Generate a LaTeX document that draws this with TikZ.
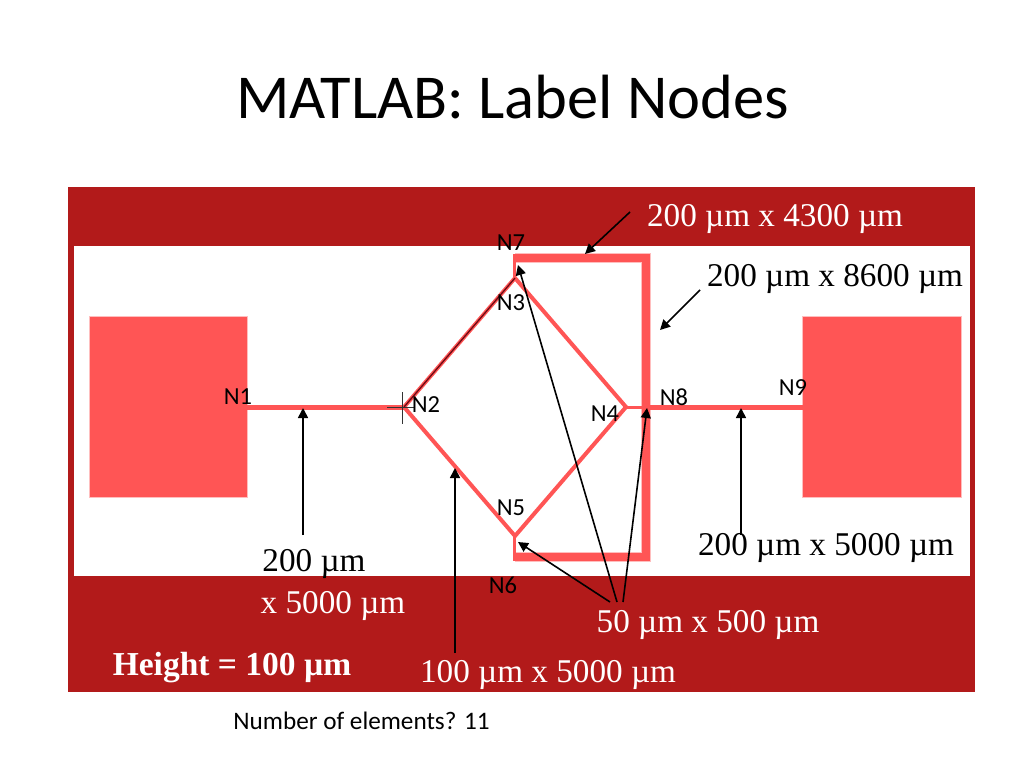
\documentclass[tikz,border=0pt]{standalone}
\usepackage{fontspec}
\setmainfont{Carlito}
\newfontfamily\figserif{Liberation Serif}
\usetikzlibrary{arrows.meta}
\definecolor{bandred}{RGB}{178,26,26}
\definecolor{padred}{RGB}{255,85,85}
\definecolor{palered}{RGB}{255,190,190}
\definecolor{darkwire}{RGB}{110,10,20}
\tikzset{
  pad/.style={fill=padred,draw=palered,line width=1pt},
  wire/.style={draw=padred,line width=#1,line cap=butt,line join=miter},
  nlabel/.style={font=\fontsize{24.5}{26}\selectfont,text=black,inner sep=0pt},
  dimtext/.style={font=\figserif\fontsize{33.2}{35}\selectfont,inner sep=0pt},
  ptr/.style={draw=black,line width=1.6pt,-{Triangle[length=10pt,width=10pt]},shorten >=0pt}
}
\begin{document}
\begin{tikzpicture}[x=1pt,y=-1pt]
\useasboundingbox (0,0) rectangle (1024,768);
\fill[white] (0,0) rectangle (1024,768);
% title
\node[font=\fontsize{62.5}{66}\selectfont,inner sep=0pt] (title) at (512.5,97) {MATLAB: Label Nodes};
% bands
\fill[bandred] (68,187) rectangle (975,692);
\fill[white] (74,246) rectangle (970,576);
% pads
\node[pad,minimum width=158pt,minimum height=181pt,inner sep=0pt] (padL) at (168.5,407) {};
\node[pad,minimum width=159pt,minimum height=181pt,inner sep=0pt] (padR) at (882,407) {};
% geometry coordinates
\coordinate (n1) at (247,407);
\coordinate (n2) at (404,407);
\coordinate (n3) at (515,278);
\coordinate (n4) at (626,407);
\coordinate (n5) at (515,536);
\coordinate (n6) at (515,557);
\coordinate (n7) at (515,258);
\coordinate (n8) at (646,407);
\coordinate (n9) at (804,407);
\coordinate (tr) at (646,258);
\coordinate (br) at (646,557);
% rectangle loop
\draw[draw=palered,line width=10.5pt,line cap=butt,line join=miter] (n7) -- (tr) -- (br) -- (n6);
\draw[wire=8.5pt] (n7) -- (tr) -- (br) -- (n6);
\draw[wire=3pt] (514.5,254) -- (514.5,278);
\draw[wire=3pt] (514.5,536) -- (514.5,561);
% wires
\draw[wire=5pt] (n1) -- (n2);
\draw[wire=5pt] (n8) -- (n9);
\draw[wire=3pt] (n4) -- (n8);
\draw[wire=4pt,line join=miter] (n2) -- (n3) -- (n4) -- (n5) -- cycle;
\draw[draw=darkwire,line width=1.3pt] (n2) -- (n3);
% crosshair
\coordinate (chL) at (387,407);
\coordinate (chR) at (414,407);
\coordinate (chT) at (402,392);
\coordinate (chB) at (402,424);
\draw[line width=1pt,black!80] (chL) -- (chR);
\draw[line width=1pt,black!80] (chT) -- (chB);
% pointer ends
\coordinate (a1s) at (630,212); \coordinate (a1e) at (585,254);
\coordinate (a2s) at (700,290); \coordinate (a2e) at (660,330);
\coordinate (a3s) at (303,535); \coordinate (a3e) at (303,408);
\coordinate (a4s) at (455,653); \coordinate (a4e) at (455,468);
\coordinate (a5s) at (741,535); \coordinate (a5e) at (741,408);
\coordinate (a6s) at (617,602); \coordinate (a6e) at (518,265);
\coordinate (a7s) at (623,602); \coordinate (a7e) at (647,408);
\coordinate (a8s) at (610,602); \coordinate (a8e) at (518,542);
\draw[ptr] (a1s) -- (a1e);
\draw[ptr] (a2s) -- (a2e);
\draw[ptr] (a3s) -- (a3e);
\draw[ptr] (a4s) -- (a4e);
\draw[ptr] (a5s) -- (a5e);
\draw[ptr] (a6s) -- (a6e);
\draw[ptr] (a7s) -- (a7e);
\draw[ptr] (a8s) -- (a8e);
% node labels
\node[nlabel] (N1) at (238,397) {N1};
\node[nlabel] (N2) at (426,405) {N2};
\node[nlabel] (N3) at (511,303) {N3};
\node[nlabel] (N4) at (605,414) {N4};
\node[nlabel] (N5) at (511,508) {N5};
\node[nlabel] (N6) at (503,585) {N6};
\node[nlabel] (N7) at (511,243) {N7};
\node[nlabel] (N8) at (674,397) {N8};
\node[nlabel] (N9) at (793,388) {N9};
% dimension labels
\node[dimtext,text=white] (d1) at (775,219) {200 µm x 4300 µm};
\node[dimtext,text=black] (d2) at (835,279) {200 µm x 8600 µm};
\node[dimtext,text=black] (d3) at (826,548) {200 µm x 5000 µm};
\node[dimtext,text=black] (d4) at (314,564) {200 µm};
\node[dimtext,text=white] (d5) at (333,606) {x 5000 µm};
\node[dimtext,text=white] (d6) at (708,625) {50 µm x 500 µm};
\node[dimtext,text=white] (d7) at (548,675) {100 µm x 5000 µm};
\node[dimtext,text=white,font=\figserif\bfseries\fontsize{33.5}{35}\selectfont] (d8) at (232,668) {Height = 100 µm};
\node[font=\fontsize{25.2}{27}\selectfont,inner sep=0pt] (q) at (361.5,721) {Number of elements? 11};
\end{tikzpicture}
\end{document}
